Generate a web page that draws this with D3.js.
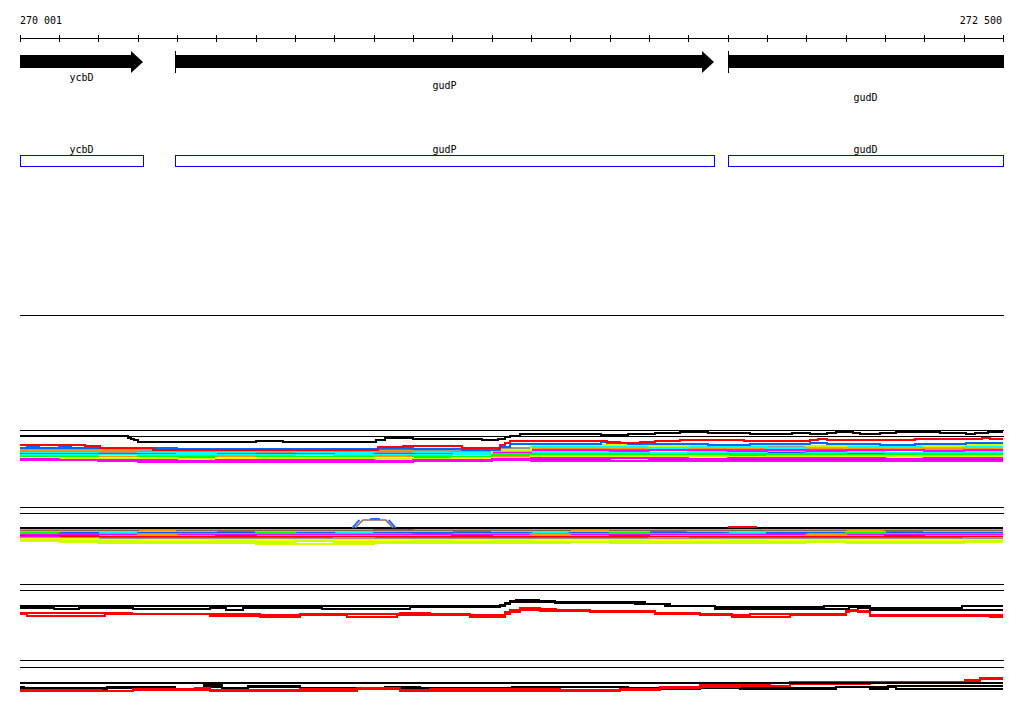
<!DOCTYPE html>
<html>
<head>
<meta charset="UTF-8">
<title>gudP region</title>
<script src="https://d3js.org/d3.v7.min.js"></script>
<style>
  body { margin: 0; background: #fff; }
  svg { display: block; font-family: 'DejaVu Sans Mono', monospace; font-size: 10px; }
  .rule { stroke: #000; stroke-width: 1; shape-rendering: crispEdges; }
  .series { fill: none; stroke-width: 2; shape-rendering: crispEdges; }
  .gene-box { fill: none; stroke: #0000ff; stroke-width: 1; shape-rendering: crispEdges; }
</style>
</head>
<body>
<script>
// ---- data ----
const viewRange = [270001, 272500];
const tickLabels = ['270 001', '272 500'];
const tickStep = 100;

const geneNames = ['ycbD', 'gudP', 'gudD'];
const geneStarts = [269850, 270395, 271801];
const geneEnds = [270314, 271765, 272700];

// track 1 : step lines [bp, offset]
const t1Black = [[270001,6],[270276,8],[270283,9],[270291,10],[270301,12],[270601,11],[270670,12],[270906,10],[270929,8],[270999,9],[271175,10],[271216,9],[271234,7],[271247,6],[271272,4],[271478,5],[271547,4],[271615,3],[271679,2],[271750,3],[271857,4],[271963,3],[272009,4],[272052,3],[272075,2],[272118,3],[272136,4],[272187,3],[272228,2],[272340,3],[272406,4],[272429,3],[272462,2]];
const t1Red = [[270001,15],[270166,16],[270204,18],[270339,20],[270911,17],[270975,16],[271125,18],[271221,15],[271234,13],[271247,11],[271493,12],[271526,13],[271577,12],[271615,11],[271679,10],[271841,11],[272009,10],[272029,9],[272052,10],[272276,9],[272446,8],[272466,9]];
const t1Blue = [[270001,18],[270020,17],[270050,18],[270100,17],[270130,18],[270339,19],[270911,18],[270999,19],[271125,20],[271221,17],[271247,14],[271478,12],[271493,13],[271547,14],[271750,15],[271857,14],[272009,13],[272052,14],[272187,15],[272276,14],[272406,13]];

// track 1 : colour band, one value per 100 bp bin
const t1BandColors = ['#0066ff','#996644','#999999','#ff9900','#999999','#00ffff','#ff00ff','#ff0000','#00ffff','#ccff00','#ff9900','#00ff00','#ffff00','#ccff00','#ff00ff','#ff00ff'];
const t1BandValues = [
  [19,19,19,18,19,19,19,19,19,19,19,19,21,23,23,23,24,23,23,23,22,23,23,23,23],
  [20,21,20,20,21,20,20,21,21,20,20,21,19,19,19,20,19,19,20,19,19,20,19,20,19],
  [20,20,19,20,20,21,20,20,20,21,21,20,18,16,16,17,16,16,17,16,16,17,16,17,16],
  [21,21,21,22,21,21,21,22,21,21,22,22,20,18,18,18,19,18,18,19,18,18,18,19,18],
  [22,22,22,22,22,22,23,22,22,22,23,22,23,25,25,25,25,26,25,25,25,25,25,26,25],
  [23,23,24,23,23,23,24,23,23,24,23,23,21,22,22,22,23,22,22,21,22,22,23,22,22],
  [24,24,24,24,25,24,24,24,25,24,24,25,22,20,20,21,20,20,21,20,21,20,20,21,20],
  [25,25,26,25,25,25,26,25,25,25,26,25,27,29,29,28,29,29,29,30,29,29,28,29,29],
  [25,25,25,25,24,25,25,25,25,25,25,25,21,17,17,17,18,17,17,18,17,17,17,17,17],
  [26,26,26,27,26,26,26,26,27,26,26,26,20,15,15,15,16,15,15,15,16,15,15,16,15],
  [26,26,27,26,26,26,26,27,26,26,26,27,27,27,27,26,27,27,27,26,27,27,27,27,27],
  [27,27,28,27,27,28,27,27,27,28,27,27,25,24,24,24,25,24,24,24,24,25,24,24,24],
  [28,28,28,28,29,28,28,28,28,28,29,28,28,27,27,27,27,28,27,27,27,27,28,27,27],
  [29,29,29,29,29,30,29,29,29,29,29,30,28,26,26,26,26,26,27,26,26,26,26,26,26],
  [30,30,30,30,31,30,30,30,30,31,30,30,29,28,28,28,28,29,28,28,28,28,29,28,28],
  [29,30,31,32,32,32,32,32,32,32,31,31,30,31,31,31,31,31,31,31,31,31,31,31,31]
];

// track 2
const t2Black = [[270001,21]];
const t2Red = [[271801,20],[271874,20]];
// hump: null value = gap
const t2HumpBlue = [[270846,21],[270864,13],[270864,null],[270891,12],[270916,12],[270916,null],[270938,13],[270956,21]];
const t2HumpBrown = [[270853,21],[270873,13],[270931,13],[270949,21]];
const t2BandColors = ['#999999','#ff9900','#996644','#00ffff','#0066ff','#00ff00','#ff00ff','#ff9900','#ff0000','#ff00ff','#999999','#ffff00','#ccff00','#ccff00'];
const t2BandValues = [
  [22,22,22,22,22,22,22,22,22,22,22,22,22,22,22,22,22,22,22,22,22,22,22,22,22],
  [23,23,23,23,22,23,23,23,23,23,23,22,23,23,23,23,23,22,23,23,23,23,23,22,23],
  [24,24,24,25,24,24,24,24,24,23,24,24,24,24,25,24,24,24,24,24,24,25,24,24,24],
  [25,25,25,25,25,26,25,25,25,25,25,26,25,25,25,25,26,25,25,25,25,25,26,25,25],
  [26,26,27,26,26,26,26,26,27,26,26,26,26,27,26,26,26,26,27,26,26,26,26,26,26],
  [26,27,27,27,27,27,26,27,27,27,27,27,27,27,27,26,27,27,27,27,27,26,27,27,27],
  [28,27,28,28,28,28,28,28,28,28,27,28,28,28,28,28,28,28,28,27,28,28,28,28,28],
  [29,29,29,28,29,29,29,29,29,29,29,29,29,28,29,29,29,29,29,29,28,29,29,29,29],
  [29,29,30,30,30,29,30,30,30,30,30,29,30,30,30,29,30,30,30,30,30,30,29,30,30],
  [30,31,31,31,31,31,31,31,31,31,31,31,31,31,31,31,31,31,31,31,31,31,31,31,31],
  [31,31,32,32,32,32,32,32,31,32,32,32,32,32,32,32,31,32,32,32,32,32,32,32,31],
  [32,32,33,33,33,33,33,33,33,33,33,33,33,33,33,33,33,33,33,33,33,33,33,33,33],
  [34,35,34,35,35,34,35,34,35,35,34,35,34,35,35,34,35,35,34,35,34,35,35,35,34],
  [33,34,36,36,36,36,37,37,37,36,36,36,36,36,35,36,36,36,36,36,35,36,36,36,35]
];

// track 3
const t3BlackA = [[270001,22],[271221,21],[271234,19],[271247,17],[271262,16],[271320,17],[271361,18],[271590,20],[271653,22],[271768,23],[272045,22],[272162,24],[272396,22]];
const t3BlackB = [[270001,24],[270087,25],[270151,24],[270288,25],[270484,24],[270525,26],[270568,24],[270769,25],[270992,23],[271221,22],[271234,20],[271247,18],[271361,19],[271564,20],[271641,22],[271768,25],[272108,23],[272131,24],[272162,26]];
const t3RedA = [[270001,29],[270286,30],[270611,31],[270713,30],[270967,29],[271043,30],[271145,31],[271234,28],[271247,26],[271272,24],[271323,25],[271363,26],[271450,27],[271615,29],[271730,31],[271857,30],[272101,27],[272108,26],[272131,27],[272162,31]];
const t3RedB = [[270001,30],[270019,32],[270217,30],[270484,32],[270611,33],[270713,31],[270832,33],[270959,31],[271145,33],[271234,30],[271247,28],[271272,26],[271323,27],[271450,28],[271615,30],[271811,33],[271958,31],[272101,28],[272108,27],[272131,28],[272162,32],[272467,33]];

// track 4
const t4BlackA = [[270001,23]];
const t4BlackB = [[270001,27],[270011,29],[270222,28],[270395,29],[270469,25],[270515,29],[270581,26],[270713,29],[270929,27],[271018,29],[271252,27],[271547,29],[271730,28],[271831,29],[272075,27],[272162,29],[272207,26],[272228,29]];
const t4BlackC = [[270001,28],[270222,27],[270395,29],[270469,27],[270515,28],[270581,27],[270713,28],[271252,27],[271547,28],[272075,27],[272228,26]];
const t4RedA = [[270001,30],[270207,31],[270288,29],[270446,28],[270484,30],[270713,29],[270858,28],[270967,30],[271043,29],[271374,30],[271526,29],[271628,27],[271730,25],[271831,24],[271907,23],[271958,22],[272403,20],[272441,18]];
const t4RedB = [[270001,31],[270288,30],[270484,31],[270858,29],[270967,31],[271526,30],[271628,28],[271730,27],[271831,26],[271958,24],[272162,23],[272403,21],[272441,19]];

// ---- layout ----
const width = 1024, height = 714;
const x = d3.scaleLinear().domain(viewRange).range([20, 1003]);
const svg = d3.select('body').append('svg').attr('width', width).attr('height', height);
const px = v => Math.round(v) + 0.5;

// ruler
const ticks = [viewRange[0]].concat(d3.range(270100, viewRange[1] + 1, tickStep));
svg.append('line').attr('class', 'rule')
  .attr('x1', x(viewRange[0])).attr('x2', x(viewRange[1]) + 1)
  .attr('y1', 38.5).attr('y2', 38.5);
svg.selectAll('.tick').data(ticks).join('line')
  .attr('class', 'rule tick')
  .attr('x1', d => px(x(d))).attr('x2', d => px(x(d)))
  .attr('y1', 35).attr('y2', 42);
svg.append('text').attr('x', x(viewRange[0])).attr('y', 24).text(tickLabels[0]);
svg.append('text').attr('x', x(viewRange[1]) - 1).attr('y', 24)
  .attr('text-anchor', 'end').text(tickLabels[1]);

// genes
const genes = geneNames.map((n, i) => ({
  name: n, start: geneStarts[i], end: geneEnds[i],
  x0: x(Math.max(geneStarts[i], viewRange[0])),
  x1: x(Math.min(geneEnds[i], viewRange[1]))
}));
const labelBase = [81, 89, 101];

genes.forEach((g, i) => {
  const head = g.end <= viewRange[1];
  const bx = Math.round(g.x0), ex = Math.round(g.x1) + (head ? 0 : 1);
  const hx = head ? ex - 12 : ex;
  const pts = head
    ? [[bx,55],[hx,55],[hx,51],[ex,62],[hx,73],[hx,68],[bx,68]]
    : [[bx,55],[ex,55],[ex,68],[bx,68]];
  svg.append('path').attr('d', 'M' + pts.join('L') + 'Z').attr('fill', '#000');
  if (g.start >= viewRange[0]) {
    svg.append('line').attr('class', 'rule')
      .attr('x1', px(g.x0)).attr('x2', px(g.x0)).attr('y1', 51).attr('y2', 73);
  }
  svg.append('text').attr('x', (g.x0 + g.x1) / 2).attr('y', labelBase[i])
    .attr('text-anchor', 'middle').text(g.name);

  // second feature row
  svg.append('rect').attr('class', 'gene-box')
    .attr('x', Math.round(g.x0) + 0.5).attr('y', 155.5)
    .attr('width', Math.round(g.x1) - Math.round(g.x0)).attr('height', 11);
  svg.append('text').attr('x', (g.x0 + g.x1) / 2).attr('y', 153)
    .attr('text-anchor', 'middle').text(g.name);
});

// separator
svg.append('line').attr('class', 'rule')
  .attr('x1', 20).attr('x2', 1004).attr('y1', 315.5).attr('y2', 315.5);

// ---- alignment tracks ----
const binStarts = ticks.slice(0, 25);
const fromBins = vals => binStarts.map((b, i) => [b, vals[i]]).concat([[viewRange[1], vals[vals.length - 1]]]);
const fromSteps = pts => pts.concat(pts[pts.length - 1][0] < viewRange[1] ? [[viewRange[1], pts[pts.length - 1][1]]] : []);

function track(top, frames) {
  const y = d3.scaleLinear().domain([0, 40]).range([top, top + 40]);
  const g = svg.append('g');
  frames.forEach(f => {
    g.append('line').attr('class', 'rule')
      .attr('x1', 20).attr('x2', 1004).attr('y1', y(f) + 0.5).attr('y2', y(f) + 0.5);
  });
  const step = d3.line().x(d => Math.round(x(d[0]))).y(d => y(d[1])).curve(d3.curveStepAfter);
  const lin = d3.line().defined(d => d[1] != null).x(d => x(d[0])).y(d => y(d[1]));
  return {
    steps(pts, color) {
      g.append('path').attr('class', 'series').attr('stroke', color).attr('d', step(fromSteps(pts)));
    },
    bins(vals, color) {
      g.append('path').attr('class', 'series').attr('stroke', color).attr('d', step(fromBins(vals)));
    },
    segment(pts, color) {
      g.append('path').attr('class', 'series').attr('stroke', color).attr('d', step(pts));
    },
    linear(pts, color, w) {
      g.append('path').attr('fill', 'none').attr('stroke', color)
        .attr('stroke-width', w).attr('d', lin(pts));
    }
  };
}

const tr1 = track(430, [0, 6]);
t1BandValues.forEach((v, i) => tr1.bins(v, t1BandColors[i]));
tr1.steps(t1Blue, '#0066ff');
tr1.steps(t1Red, '#ff0000');
tr1.steps(t1Black, '#000000');

const tr2 = track(507, [0, 6]);
t2BandValues.forEach((v, i) => tr2.bins(v, t2BandColors[i]));
tr2.steps(t2Black, '#000000');
tr2.segment(t2Red, '#ff0000');
tr2.linear(t2HumpBlue, '#1e6eff', 2);
tr2.linear(t2HumpBrown, '#9a6658', 1.5);

const tr3 = track(584, [0, 6]);
tr3.steps(t3RedB, '#ff0000');
tr3.steps(t3RedA, '#ff0000');
tr3.steps(t3BlackB, '#000000');
tr3.steps(t3BlackA, '#000000');

const tr4 = track(660, [0, 7]);
tr4.steps(t4BlackC, '#000000');
tr4.steps(t4BlackB, '#000000');
tr4.steps(t4RedB, '#ff0000');
tr4.steps(t4RedA, '#ff0000');
tr4.steps(t4BlackA, '#000000');
</script>
</body>
</html>
